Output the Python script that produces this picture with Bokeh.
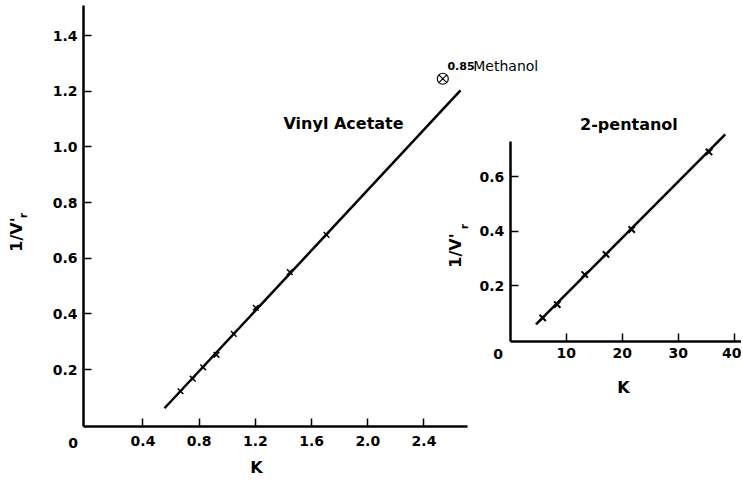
import math
from bokeh.plotting import figure
from bokeh.models import Range1d, LinearAxis, FixedTicker, Label
from bokeh.embed import file_html
from bokeh.resources import INLINE

# ---- data: Vinyl Acetate (main panel) ----
va_k = [0.667, 0.754, 0.828, 0.923, 1.046, 1.203, 1.445, 1.706]
va_inv = [0.122, 0.167, 0.208, 0.253, 0.328, 0.422, 0.550, 0.684]
va_fit_k = [0.553, 2.66]
va_fit_inv = [0.061, 1.203]

# ---- data: Methanol point ----
meoh_k = [2.534]
meoh_inv = [1.245]

# ---- data: 2-pentanol (inset) ----
pent_k = [5.8, 8.4, 13.3, 17.1, 21.7, 35.5]
pent_inv = [0.083, 0.132, 0.242, 0.316, 0.407, 0.692]
pent_fit_k = [4.6, 38.4]
pent_fit_inv = [0.059, 0.756]

# ---- ticks ----
main_xticks = [0.4, 0.8, 1.2, 1.6, 2.0, 2.4]
main_xlabels = ["0.4", "0.8", "1.2", "1.6", "2.0", "2.4"]
main_yticks = [0.2, 0.4, 0.6, 0.8, 1.0, 1.2, 1.4]
main_ylabels = ["0.2", "0.4", "0.6", "0.8", "1.0", "1.2", "1.4"]
ins_xticks = [10, 20, 30, 40]
ins_xlabels = ["10", "20", "30", "40"]
ins_yticks = [0.2, 0.4, 0.6]
ins_ylabels = ["0.2", "0.4", "0.6"]

FONT = "DejaVu Sans"

# frame = whole canvas; axes are placed with fixed_location
p = figure(width=741, height=480, output_backend="svg", toolbar_location=None,
           x_range=Range1d(-0.6142, 4.660), y_range=Range1d(-0.1987, 1.5261),
           min_border_left=0, min_border_right=0, min_border_top=0,
           min_border_bottom=0)
p.extra_x_ranges = {"ix": Range1d(-91.02, 41.30)}
p.extra_y_ranges = {"iy": Range1d(-0.5138, 1.2477)}
p.xgrid.visible = False
p.ygrid.visible = False
p.outline_line_color = None
p.background_fill_color = "white"
p.border_fill_color = "white"


def style(ax, ticks, labels, standoff):
    ax.ticker = FixedTicker(ticks=ticks)
    ax.major_label_overrides = {t: l for t, l in zip(ticks, labels)}
    ax.axis_line_width = 2.5
    ax.axis_line_color = "black"
    ax.major_tick_in = 8
    ax.major_tick_out = 0
    ax.major_tick_line_width = 1.5
    ax.major_tick_line_color = "black"
    ax.minor_tick_line_color = None
    ax.major_label_text_font = FONT
    ax.major_label_text_font_style = "bold"
    ax.major_label_text_font_size = "14px"
    ax.major_label_text_color = "black"
    ax.major_label_standoff = standoff


xa = p.xaxis[0]
ya = p.yaxis[0]
xa.fixed_location = -0.0047
xa.bounds = (-0.0235, 2.71)
ya.fixed_location = -0.0235
ya.bounds = (-0.0047, 1.508)
style(xa, main_xticks, main_xlabels, 9)
style(ya, main_yticks, main_ylabels, 6)

ixa = LinearAxis(x_range_name="ix", y_range_name="iy", fixed_location=-0.0037,
                 bounds=(0, 43))
iya = LinearAxis(x_range_name="ix", y_range_name="iy", fixed_location=0,
                 bounds=(-0.0037, 0.73))
style(ixa, ins_xticks, ins_xlabels, 6)
style(iya, ins_yticks, ins_ylabels, 6)
p.add_layout(ixa, "below")
p.add_layout(iya, "left")

# ---- main panel marks ----
p.line(va_fit_k, va_fit_inv, line_width=2.5, line_color="black")
p.scatter(va_k, va_inv, marker="x", size=8, line_width=1.5, line_color="black")
p.scatter(meoh_k, meoh_inv, marker="circle_x", size=11, fill_color=None,
          line_color="black", line_width=1.2)

# ---- inset marks ----
p.line(pent_fit_k, pent_fit_inv, line_width=2.5, line_color="black",
       x_range_name="ix", y_range_name="iy")
p.scatter(pent_k, pent_inv, marker="x", size=9, line_width=2, line_color="black",
          x_range_name="ix", y_range_name="iy")


def lab(x, y, text, size="16px", bold=True, align="center", angle=0.0,
        rx=None, ry=None, font=FONT):
    kw = {}
    if rx:
        kw["x_range_name"] = rx
    if ry:
        kw["y_range_name"] = ry
    p.add_layout(Label(x=x, y=y, text=text, text_font=font,
                       text_font_style="bold" if bold else "normal",
                       text_font_size=size, text_align=align,
                       text_baseline="middle", angle=angle,
                       text_color="black", **kw))


# main panel texts
lab(1.40, 1.084, "Vinyl Acetate", align="left")
lab(2.567, 1.2925, "0.85", size="11px", align="left")
lab(2.751, 1.2925, "Methanol", size="14px", bold=False, align="left")
lab(-0.098, -0.064, "0", size="14px")
lab(1.208, -0.152, "K")
lab(-0.500, 0.685, "1/V'", angle=math.pi / 2)
lab(-0.454, 0.753, "r", size="10px", angle=math.pi / 2)

# inset texts
lab(21.2, 0.793, "2-pentanol", rx="ix", ry="iy")
lab(-2.18, -0.051, "0", size="14px", rx="ix", ry="iy")
lab(20.2, -0.172, "K", rx="ix", ry="iy")
lab(-9.77, 0.330, "1/V'", angle=math.pi / 2, rx="ix", ry="iy")
lab(-8.16, 0.418, "r", size="10px", angle=math.pi / 2, rx="ix", ry="iy")

open("out.html", "w").write(file_html(p, INLINE))
